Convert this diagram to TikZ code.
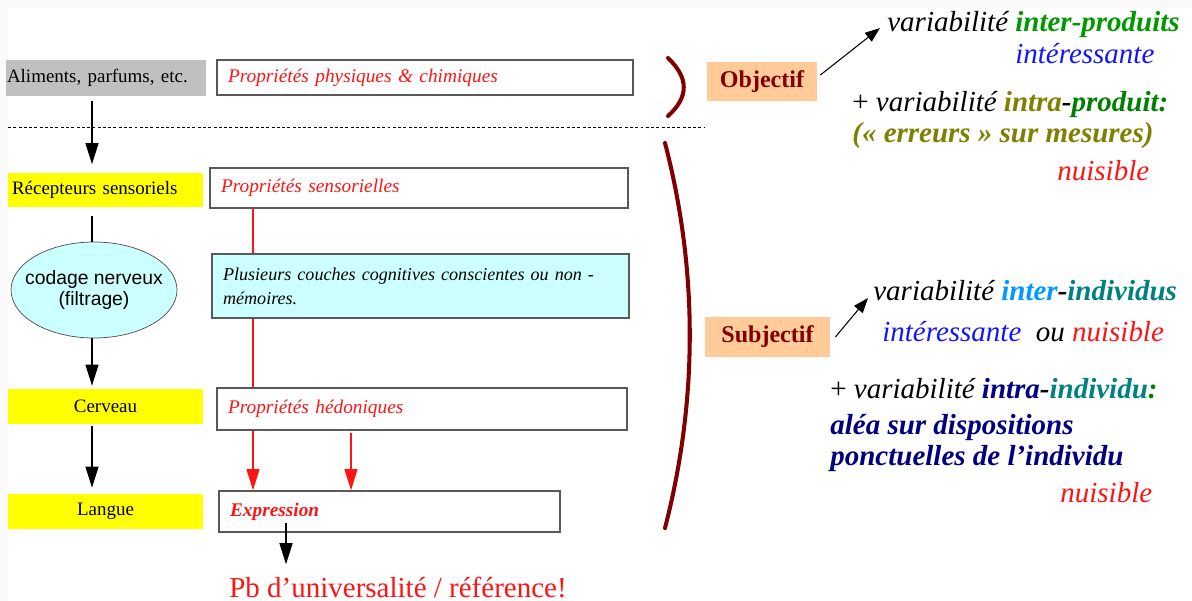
\documentclass[tikz,border=0pt]{standalone}
\usepackage{fontspec}
\setmainfont{Liberation Serif}
\setsansfont{Liberation Sans}
\definecolor{Gris}{RGB}{192,192,192}
\definecolor{Jaune}{RGB}{255,255,0}
\definecolor{Cyan}{RGB}{204,255,255}
\definecolor{Peche}{RGB}{255,204,153}
\definecolor{Bordeaux}{RGB}{128,0,0}
\definecolor{Rouge}{RGB}{255,20,20}
\definecolor{Bleu}{RGB}{20,20,255}
\definecolor{Vert}{RGB}{0,153,0}
\definecolor{VertF}{RGB}{0,128,0}
\definecolor{Olive}{RGB}{128,128,0}
\definecolor{Ciel}{RGB}{0,153,255}
\definecolor{Sarcelle}{RGB}{0,128,128}
\definecolor{Marine}{RGB}{0,0,128}
\usetikzlibrary{positioning,shapes,arrows.meta,calc}
\tikzset{>={Triangle[length=0.42cm,width=0.26cm]}}

\begin{document}
\begin{tikzpicture}[x=0.02cm,y=-0.02cm,
    niveau/.style={fill=Jaune,minimum width=3.9cm,minimum height=0.7cm,inner sep=0pt,font=\fontsize{10.8}{13}\selectfont},
    propbox/.style={draw=black!65,line width=0.9pt,inner xsep=0.22cm,inner ysep=0pt,align=left,font=\fontsize{11}{13.6}\selectfont\itshape},
    etiq/.style={fill=Peche,text=Bordeaux,inner sep=0pt,font=\fontsize{13.7}{16}\selectfont\bfseries},
    remarque/.style={anchor=base west,inner sep=0pt,font=\fontsize{16.5}{16.4}\selectfont\itshape},
    bord/.style={Bordeaux,line width=2.3pt,line cap=round},
    fleche/.style={->,line width=0.6pt},
    lien/.style={Rouge,line width=0.6pt},
    petite/.style={-{Triangle[length=0.3cm,width=0.22cm]},line width=0.6pt}]
        % fond
        \useasboundingbox (0,0) rectangle (1192,601);
        \fill[black!2] (0,0) rectangle (1192,8);
        \fill[black!2] (0,0) rectangle (8,601);
        % niveaux a gauche
        \node[niveau,fill=Gris,minimum width=4cm,minimum height=0.72cm,text width=3.96cm,align=left] at (106,78) (alim) {Aliments, parfums, etc.};
        \node[niveau,inner xsep=0.08cm,text width=3.74cm,align=left] at (105.5,190) (recep) {Récepteurs sensoriels};
        \node[ellipse,draw=black!70,fill=Cyan,minimum width=3.32cm,minimum height=1.92cm,inner sep=-0.3cm,align=center,font=\sffamily\fontsize{11}{12.5}\selectfont] at (94,290) (ell) {codage nerveux\\(filtrage)};
        \node[niveau] at (105.5,406.5) (cerv) {Cerveau};
        \node[niveau] at (105.5,511.5) (lang) {Langue};
        % proprietes
        \node[propbox,text=Rouge,text width=7.88cm,minimum height=0.7cm] at (425,77.5) (phys) {Propriétés physiques \& chimiques};
        \node[propbox,text=Rouge,text width=7.92cm,minimum height=0.8cm] at (419,188) (sens) {Propriétés sensorielles};
        \node[propbox,fill=Cyan,text width=7.9cm,minimum height=1.28cm,font=\fontsize{10.3}{13.6}\selectfont\itshape] at (420.5,286) (cogn) {Plusieurs couches cognitives conscientes ou non -\\mémoires.};
        \node[propbox,text=Rouge,text width=7.76cm,minimum height=0.84cm] at (422,409) (hedo) {Propriétés hédoniques};
        \node[propbox,text=Rouge,text width=6.38cm,minimum height=0.82cm,font=\fontsize{11}{13.6}\selectfont\itshape\bfseries] at (389.5,511.5) (expr) {Expression};
        \node[anchor=base,inner sep=0pt,text=Rouge,font=\fontsize{16.5}{20}\selectfont] at (398,597) (pb) {Pb d’universalité / référence!};
        % fleches
        \coordinate (axe) at (92,0);
        \coordinate (rA) at (253,0);
        \coordinate (rB) at (351,0);
        \coordinate (pA) at (286,523);
        \draw[fleche,shorten <=0.1cm,shorten >=0.16cm] (alim.south -| axe) -- (recep.north -| axe);
        \draw[line width=0.6pt,shorten <=0.16cm] (recep.south -| axe) -- (ell.north -| axe);
        \draw[fleche,shorten >=0.06cm] (ell.south -| axe) -- (cerv.north -| axe);
        \draw[fleche,shorten <=0.04cm,shorten >=0.12cm] (cerv.south -| axe) -- (lang.north -| axe);
        \draw[lien] (sens.south -| rA) -- (cogn.north -| rA);
        \draw[lien] (cogn.south -| rA) -- (hedo.north -| rA);
        \draw[lien,->] (hedo.south -| rA) -- (expr.north -| rA);
        \draw[lien,->,shorten <=0.04cm] (hedo.south -| rB) -- (expr.north -| rB);
        \draw[fleche,shorten >=0.24cm] (pA) -- (pb.north -| pA);
        % separation objectif / subjectif
        \draw[dash pattern=on 1.7pt off 1.3pt,line width=0.5pt] (8,127) -- (705,127);
        \draw[bord] (668,58) .. controls (689,78) and (689,97) .. (668,116);
        \draw[bord] (665,143) .. controls (698,270) and (698,400) .. (665,528);
        \node[etiq,minimum width=2.2cm,minimum height=0.8cm] at (762,81.5) (obj) {Objectif};
        \node[etiq,minimum width=2.5cm,minimum height=0.8cm] at (767.5,337) (subj) {Subjectif};
        % variabilites
        \node[remarque] at (887,32) (vp) {variabilité \textbf{\color{Vert}inter-produits}};
        \node[remarque,text=Bleu] at (1015,64) (int1) {intéressante};
        \node[remarque] at (852,112) (vp2) {\upshape+\itshape{} variabilité \textbf{\color{Olive}intra}\textbf{-}\textbf{\color{VertF}produit:}};
        \node[remarque,text=Olive] at (852,143) (err) {\bfseries(« erreurs » sur mesures)};
        \node[remarque,text=Rouge] at (1057,180) (nui1) {nuisible};
        \node[remarque] at (873,300) (vi) {variabilité \textbf{\color{Ciel}inter}\textbf{-}\textbf{\color{Sarcelle}individus}};
        \node[remarque] at (882,341) (ion) {{\color{Bleu}intéressante}\ \ ou {\color{Rouge}nuisible}};
        \node[remarque] at (830,398) (vi2) {\upshape+\itshape{} variabilité \textbf{\color{Marine}intra}\textbf{-}\textbf{\color{Sarcelle}individu}\textbf{\color{VertF}:}};
        \node[remarque,text=Marine] at (830,434) (alea) {\bfseries aléa sur dispositions};
        \node[remarque,text=Marine] at (830,465) (ponc) {\bfseries ponctuelles de l’individu};
        \node[remarque,text=Rouge] at (1060,502) (nui2) {nuisible};
        \draw[petite] ([xshift=0.06cm,yshift=0.13cm]obj.east) -- ([xshift=-0.14cm,yshift=0.08cm]vp.base west);
        \draw[petite] ([xshift=0.1cm]subj.east) -- ([xshift=-0.1cm,yshift=0.04cm]vi.base west);
    \end{tikzpicture}
\end{document}
